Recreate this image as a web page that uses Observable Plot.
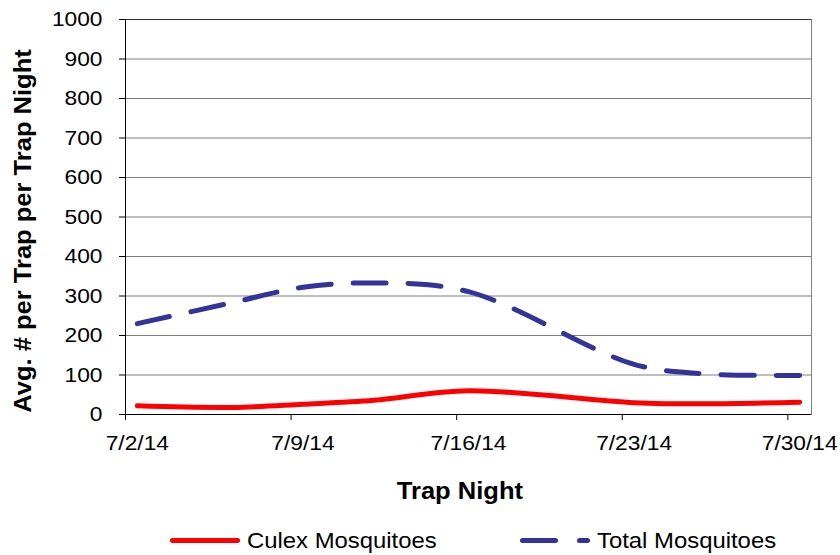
<!DOCTYPE html>
<html>
<head>
<meta charset="utf-8">
<script src="https://cdn.jsdelivr.net/npm/d3@7"></script>
<script src="https://cdn.jsdelivr.net/npm/@observablehq/plot@0.6"></script>
<style>
  html, body { margin: 0; padding: 0; background: #fff; }
  #wrap { width: 840px; font-family: "Liberation Sans", Arial, sans-serif; }
  #legend { position: relative; width: 840px; height: 45px; }
  .sw { position: absolute; height: 5px; border-radius: 3px; }
  .lt { position: absolute; font-size: 21.5px; line-height: 1; transform: scaleX(1.11); transform-origin: left center; white-space: nowrap; color: #000; }
</style>
</head>
<body>
<div id="wrap"></div>
<script>
// ---- data ----
const trapDates = ["2014-07-02","2014-07-06","2014-07-09","2014-07-12","2014-07-16","2014-07-23","2014-07-26","2014-07-30"];
const culexValues = [22, 18, 26, 36, 60, 30, 27, 31];
const totalValues = [230, 283, 322, 333, 311, 127, 103, 99];
const seriesNames = ["Culex Mosquitoes", "Total Mosquitoes"];
const xTickDates = ["2014-07-02","2014-07-09","2014-07-16","2014-07-23","2014-07-30"];
const xTickLabels = ["7/2/14","7/9/14","7/16/14","7/23/14","7/30/14"];
const xDomainDates = ["2014-07-02","2014-07-31"];
const yTicks = [0,100,200,300,400,500,600,700,800,900,1000];
const yTitle = "Avg. # per Trap per Trap Night";
const xTitle = "Trap Night";

const HALF_DAY = 12 * 3600 * 1000;
const parse = s => new Date(s + "T00:00:00Z");
const culexRows = trapDates.map((d, i) => ({date: new Date(+parse(d) + HALF_DAY), value: culexValues[i]}));
const totalRows = trapDates.map((d, i) => ({date: new Date(+parse(d) + HALF_DAY), value: totalValues[i]}));
const tickDates = xTickDates.map(parse);
const labelDates = xTickDates.map(d => new Date(+parse(d) + HALF_DAY));
const labelMap = new Map(labelDates.map((d, i) => [+d, xTickLabels[i]]));
const xDomain = xDomainDates.map(parse);

const chart = Plot.plot({
  width: 840,
  height: 510,
  marginTop: 19,
  marginBottom: 96,
  marginLeft: 125,
  marginRight: 29,
  style: {fontFamily: "Liberation Sans, Arial, sans-serif", fontSize: "20.5px", color: "#000", background: "#fff"},
  x: {type: "utc", domain: xDomain, label: null},
  y: {domain: [0, 1000], label: null},
  marks: [
    Plot.gridY(yTicks, {stroke: "#7f7f7f", strokeOpacity: 1, strokeWidth: 1}),
    Plot.frame({stroke: "#808080"}),
    Plot.ruleY([1000], {stroke: "#333", strokeWidth: 1}),
    Plot.ruleY([0], {stroke: "#000", strokeWidth: 1}),
    Plot.ruleX([xDomain[0]], {stroke: "#000", strokeWidth: 1}),
    Plot.axisY({ticks: yTicks, tickSize: 6, tickPadding: 17, tickFormat: d => String(d), label: null, fontSize: "20.5px"}),
    Plot.axisX({ticks: tickDates, tickSize: 6, tickFormat: () => "", label: null}),
    Plot.axisX({ticks: labelDates, tickSize: 0, tickPadding: 21, tickFormat: d => labelMap.get(+d), label: null, fontSize: "20.5px"}),
    Plot.line(totalRows, {x: "date", y: "value", stroke: "#333399", strokeWidth: 5, strokeDasharray: "33,22", strokeLinecap: "round", curve: "catmull-rom"}),
    Plot.line(culexRows, {x: "date", y: "value", stroke: "#FF0000", strokeWidth: 5, strokeLinecap: "round", curve: "catmull-rom"}),
    Plot.text([xTitle], {frameAnchor: "bottom", textAnchor: "middle", lineAnchor: "middle", dx: -8.6, dy: 77, fontSize: 23, fontWeight: "bold", fill: "#000"}),
    Plot.text([yTitle], {frameAnchor: "left", textAnchor: "middle", lineAnchor: "middle", rotate: -90, dx: -101.5, dy: 14, fontSize: 23, fontWeight: "bold", fill: "#000"})
  ]
});

const wrap = document.getElementById("wrap");
wrap.appendChild(chart);

// legend
const legend = document.createElement("div");
legend.id = "legend";
legend.innerHTML = `
  <div class="sw" style="left:170px; top:28px; width:70px; background:#FF0000;"></div>
  <div class="lt" style="left:247px; top:21px;">${seriesNames[0]}</div>
  <div class="sw" style="left:520px; top:28px; width:38px; background:#333399;"></div>
  <div class="sw" style="left:577px; top:28px; width:13px; background:#333399;"></div>
  <div class="lt" style="left:597px; top:21px;">${seriesNames[1]}</div>`;
wrap.appendChild(legend);

// widen glyphs slightly to match the reference's stretched text
chart.querySelectorAll("text").forEach(t => {
  if (t.querySelector("tspan")) return;
  const L = t.getComputedTextLength();
  if (L > 0) {
    t.setAttribute("textLength", (L * 1.11).toFixed(1));
    t.setAttribute("lengthAdjust", "spacingAndGlyphs");
  }
});
</script>
</body>
</html>
